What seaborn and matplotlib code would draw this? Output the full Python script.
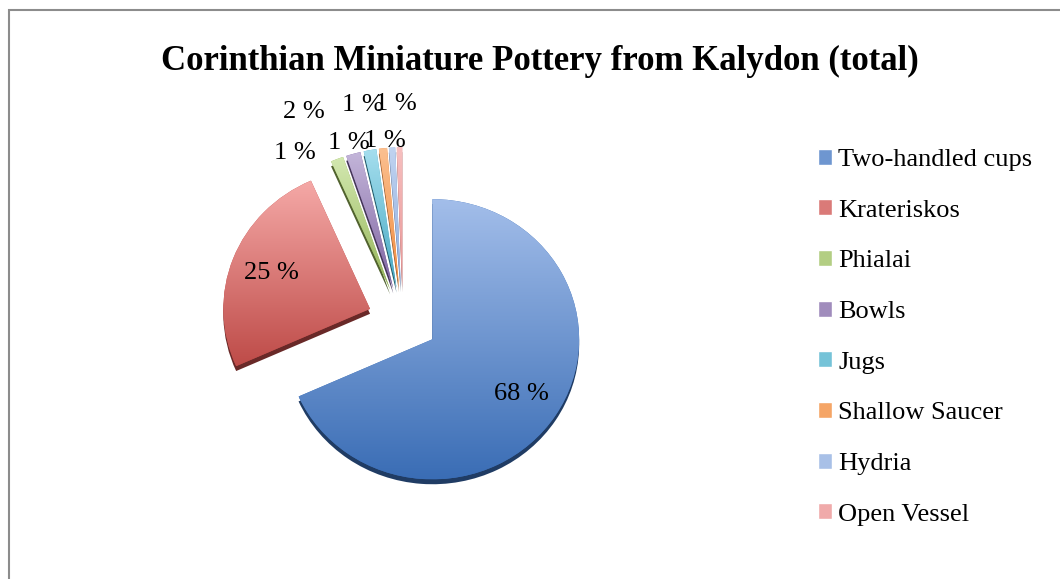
import numpy as np
import matplotlib.pyplot as plt
import matplotlib.colors as mcolors
from matplotlib.patches import Rectangle
import seaborn as sns

title = 'Corinthian Miniature Pottery from Kalydon (total)'
categories = ['Two-handled cups', 'Krateriskos', 'Phialai', 'Bowls', 'Jugs',
              'Shallow Saucer', 'Hydria', 'Open Vessel']
# shares in percent (labels are rounded)
shares = [68.3, 25.1, 1.4, 1.6, 1.4, 0.9, 0.7, 0.6]

# top (light) and bottom (dark) colour of each slice gradient
light_colors = ['#a3beea', '#f5a9a7', '#d3e8b0', '#c3b5d9', '#a5deee',
                '#fbc090', '#c0d3f0', '#f7c0c0']
dark_colors = ['#3a6db5', '#be4b48', '#93b356', '#7d62a0', '#45a8c2',
               '#f08a3c', '#8fadde', '#e89494']

sns.set_theme(style='white')
plt.rcParams['font.family'] = ['Liberation Serif', 'DejaVu Serif']
plt.rcParams['text.color'] = 'black'

fig = plt.figure(figsize=(10.6, 5.79), dpi=100)
ax = fig.add_axes([0.1476, 0.0199, 0.465, 0.8515])

explode = [0.24] * len(shares)
pie_kw = dict(explode=explode, startangle=90, counterclock=False)

# darker copy shifted down gives the 3-D rim
side_colors = [tuple(c * 0.55 for c in mcolors.to_rgb(d)) for d in dark_colors]
side, _ = ax.pie(shares, colors=side_colors, center=(0, -0.035),
                 wedgeprops=dict(linewidth=0), **pie_kw)
for w in side:
    w.set_zorder(0.5)

wedges, _ = ax.pie(shares, colors=dark_colors, wedgeprops=dict(linewidth=0), **pie_kw)

# vertical gradient inside each slice
grad = np.linspace(0, 1, 256)[:, None, None]
for w, lc, dc in zip(wedges, light_colors, dark_colors):
    bb = w.get_path().get_extents()
    lo = np.array(mcolors.to_rgb(dc))
    hi = np.array(mcolors.to_rgb(lc))
    img = lo + (hi - lo) * grad
    im = ax.imshow(img, extent=[bb.x0, bb.x1, bb.y0, bb.y1], origin='lower',
                   aspect='auto', zorder=1.1)
    im.set_clip_path(w)

# percent labels: big slices inside, small ones in two rows above
k = 0
for w, share in zip(wedges, shares):
    mid = np.deg2rad((w.theta1 + w.theta2) / 2)
    cx, cy = w.center
    if share > 5:
        tx, ty = cx + 0.72 * np.cos(mid), cy + 0.72 * np.sin(mid)
    else:
        d = 1.05 if k % 2 == 0 else 1.31
        tx, ty = cx + 1.7 * d * np.cos(mid), cy + d * np.sin(mid)
        k += 1
    ax.text(tx, ty, f'{share:.0f} %', ha='center', va='center', fontsize=19,
            zorder=3)

ax.set_xlim(-1.68, 1.68)
ax.set_ylim(-1.7, 1.7)
ax.set_aspect(0.955)
ax.axis('off')

fig.text(0.5094, 0.894, title, ha='center', va='center', fontsize=25,
         fontweight='bold')

handles = [Rectangle((0, 0), 1, 1, facecolor=mcolors.to_hex(
    (np.array(mcolors.to_rgb(lc)) + np.array(mcolors.to_rgb(dc))) / 2))
    for lc, dc in zip(light_colors, dark_colors)]
fig.legend(handles, categories, loc='upper left', bbox_to_anchor=(0.749, 0.784),
           frameon=False, fontsize=19, labelspacing=1.075, handlelength=0.55,
           handleheight=0.55, handletextpad=0.23)

# chart area border (only top and left edges fall inside the picture)
fig.patches.append(Rectangle((9 / 1060, -0.1), 1.2, 1.1 - 10 / 579, fill=False,
                             edgecolor='#8c8c8c', linewidth=1.5,
                             transform=fig.transFigure))

fig.savefig('out.png', dpi=100)
